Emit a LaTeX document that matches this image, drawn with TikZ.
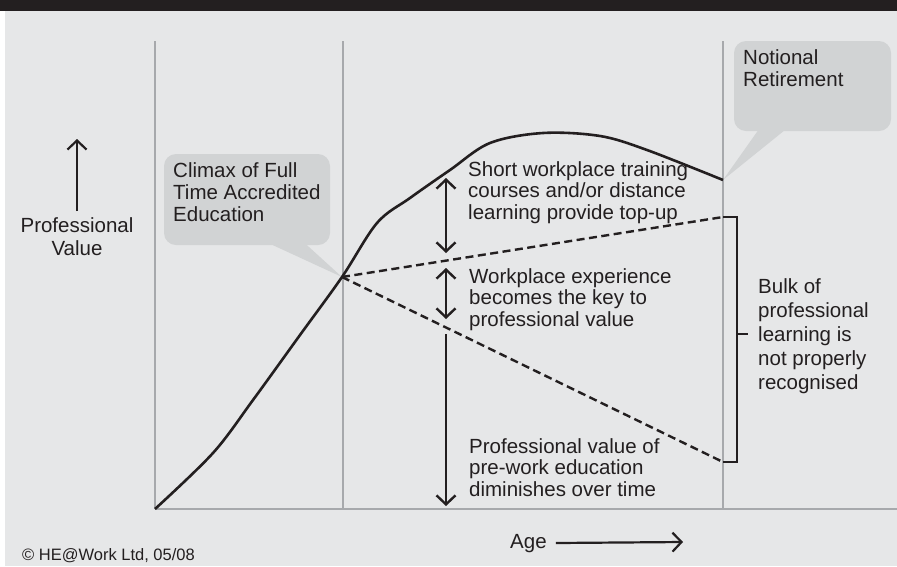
\documentclass[tikz,border=0pt]{standalone}
\usepackage{fontspec}
\setmainfont{Liberation Sans}
\usetikzlibrary{arrows.meta}

\definecolor{inkgray}{HTML}{231F20}
\definecolor{panelgray}{HTML}{E6E7E8}
\definecolor{bubblegray}{HTML}{D1D3D4}
\definecolor{rulegray}{HTML}{A7A9AC}

\tikzset{
  note/.style={anchor=base west, inner sep=0pt, align=left, text=inkgray,
    font=\fontsize{20.5}{21.5}\selectfont},
  bubble/.style={fill=bubblegray, rounded corners=12pt, inner sep=0pt},
  gridline/.style={draw=rulegray, line width=2pt},
  valuecurve/.style={draw=inkgray, line width=2.6pt, line join=round},
  trend/.style={draw=inkgray, line width=2.4pt, dash pattern=on 8pt off 4.5pt},
  measure/.style={draw=inkgray, line width=2.4pt}
}

\begin{document}
\begin{tikzpicture}[x=1pt, y=-1pt, >={Straight Barb[length=9pt,width=19pt]}]
      \useasboundingbox (0,0) rectangle (897,566);
      \fill [white] (0,0) rectangle (897,566);
      \fill [panelgray] (5,11) rectangle (897,566);
      \fill [inkgray] (0,0) rectangle (897,11);

      \coordinate (origin) at (155,509);
      \coordinate (climax) at (342,277);
      \coordinate (retire) at (723,180);
      \coordinate (topup) at (723,217);
      \coordinate (decay) at (723,462);

      % callouts
      \node [bubble, minimum width=166pt, minimum height=91pt] (climaxbox) at (247,199.5) {};
      \fill [bubblegray] ([xshift=26pt]climaxbox.south) -- (climax) -- ([xshift=60pt]climaxbox.south) -- cycle;
      \node [bubble, minimum width=157pt, minimum height=90pt] (retirebox) at (812.5,86) {};
      \fill [bubblegray] ([xshift=-55pt]retirebox.south) -- (retire) -- ([xshift=-29pt]retirebox.south) -- cycle;

      % stages and axis
      \foreach \x in {155,343,723}
        \draw [gridline] (\x,41) -- (\x,509);
      \draw [gridline] (origin) -- (897,509);

      \draw [valuecurve] plot [smooth, tension=0.55] coordinates {
        (155,509) (213,453) (253,400) (300,335) (342,277) (377,223) (410,198)
        (450,170) (490,143) (543,133) (600,136) (647,150) (723,180)};

      \draw [trend] (climax) -- (topup);
      \draw [trend] (climax) -- (decay);

      \draw [measure] (topup) -- ++(14,0) |- (decay);
      \draw [measure] (737,334) -- (748,334);

      \draw [measure, <->] (446,178) -- (446,253);
      \draw [measure, <->] (446,268) -- (446,319);
      \draw [measure, ->] (446,334) -- (446,506);

      % labels (placed at the baseline of their last line)
      \node [note, anchor=base, align=center, font=\fontsize{20.5}{23}\selectfont] (provalue) at (77,255) {Professional\\Value};
      \draw [measure, line width=2.2pt, ->] (77,211) -- (77,139);

      \node [note, font=\fontsize{20.5}{22}\selectfont] (climaxtext) at (173,221) {Climax of Full\\Time Accredited\\Education};
      \node [note, font=\fontsize{20.5}{22}\selectfont] (retiretext) at (743,86) {Notional\\Retirement};
      \node [note] (topuptext) at (468,219) {Short workplace training\\courses and/or distance\\learning provide top-up};
      \node [note] (worktext) at (469,326) {Workplace experience\\becomes the key to\\professional value};
      \node [note] (decaytext) at (469,496) {Professional value of\\pre-work education\\diminishes over time};
      \node [note, font=\fontsize{20.5}{24}\selectfont] (bulktext) at (758,389) {Bulk of\\professional\\learning is\\not properly\\recognised};

      \node [note] (age) at (510,548) {Age};
      \draw [measure, line width=2.2pt, ->, shorten <=9pt] (age.east) -- (683,542);

      \node [note, font=\fontsize{16.5}{18}\selectfont] (credit) at (22,560) {\textcopyright{} HE@Work Ltd, 05/08};
    \end{tikzpicture}
\end{document}
